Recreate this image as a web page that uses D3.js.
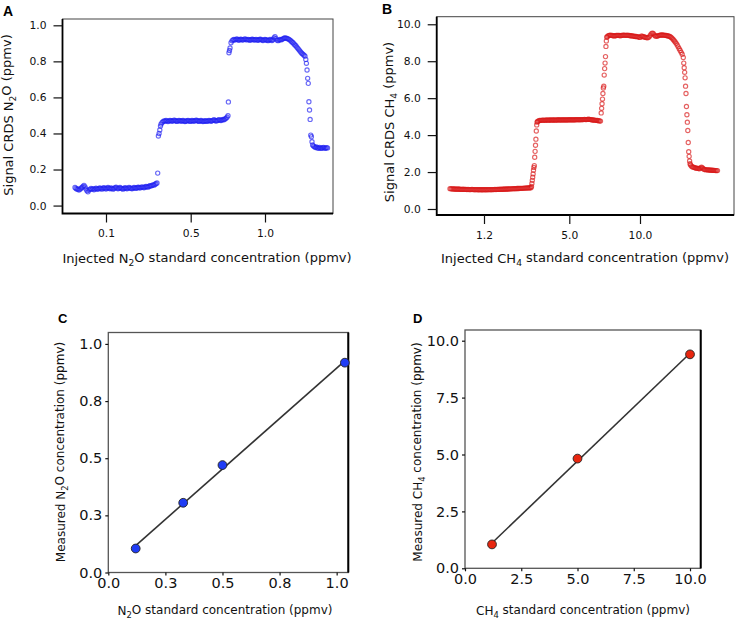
<!DOCTYPE html>
<html>
<head>
<meta charset="utf-8">
<script src="https://cdn.jsdelivr.net/npm/d3@7"></script>
<style>
  body { margin: 0; background: #fff; }
  svg { display: block; font-family: "DejaVu Sans", sans-serif; }
</style>
</head>
<body>
<div id="chart"></div>
<script>
// ---- panel A : N2O trace (sample time vs signal) ----
var n2oLow = [0.100,0.095,0.090,0.092,0.086,0.090,0.096,0.100,0.106,0.112,0.104,0.092,0.082,0.076,0.086,0.090,0.095,0.090,0.094,0.088,
  0.092,0.096,0.093,0.090,0.095,0.098,0.094,0.091,0.096,0.099,0.095,0.092,0.097,0.100,0.096,0.093,0.098,0.095,0.091,0.094,
  0.099,0.102,0.097,0.093,0.096,0.100,0.097,0.094,0.091,0.095,0.099,0.096,0.093,0.097,0.101,0.098,0.095,0.093,0.097,0.100,
  0.098,0.095,0.099,0.102,0.100,0.097,0.101,0.104,0.101,0.099,0.103,0.106,0.104,0.102,0.107,0.110,0.108,0.112,0.115,0.113,
  0.118,0.121,0.125];
var n2oRise1 = [0.180,0.386,0.400,0.419,0.441];
var n2oMid = [0.452,0.460,0.466,0.470,0.468,0.472,0.470,0.466,0.469,0.473,0.471,0.468,0.470,0.474,0.472,0.469,0.467,0.470,0.473,0.471,
  0.468,0.470,0.472,0.469,0.466,0.468,0.471,0.473,0.470,0.467,0.469,0.472,0.470,0.468,0.471,0.474,0.472,0.469,0.467,0.470,
  0.472,0.469,0.466,0.468,0.471,0.469,0.467,0.470,0.473,0.471,0.468,0.470,0.473,0.476,0.472,0.469,0.471,0.474,0.477,0.474,
  0.472,0.475,0.478,0.476,0.480,0.484,0.490,0.498];
var n2oRise2 = [0.575,0.848,0.860,0.874];
var n2oHigh = [0.903,0.914,0.919,0.921,0.918,0.922,0.924,0.920,0.917,0.921,0.923,0.920,0.918,0.922,0.925,0.921,0.919,0.922,0.920,0.917,
  0.920,0.923,0.921,0.918,0.920,0.922,0.919,0.917,0.920,0.923,0.921,0.918,0.916,0.919,0.922,0.920,0.917,0.915,0.918,0.921,
  0.919,0.916,0.920,0.930,0.937,0.926,0.918,0.915,0.918,0.921,0.919,0.922,0.925,0.928,0.930,0.929,
  0.927,0.925,0.922,0.918,0.913,0.908,0.903,0.897,0.891,0.885,0.878,0.871,0.864,0.857,0.850,0.844,0.839,0.834,0.829];
var n2oFall = [0.811,0.789,0.752,0.706,0.678,0.576,0.530,0.478,0.391,0.382,0.354,0.336];
var n2oTail = [0.330,0.326,0.322,0.325,0.320,0.318,0.322,0.319,0.317,0.321,0.323,0.319,0.318,0.321,0.320];
// [start time, sample step, values]
var n2oSegments = [[12.5,1,n2oLow],[95.2,0.7,n2oRise1],[98.5,1,n2oMid],[165.9,0.55,n2oRise2],
  [168.5,1,n2oHigh],[243.3,0.62,n2oFall],[251,1,n2oTail]];
var n2oTickTimes = [43.5, 128.2, 202.5];
var n2oTickLabels = ["0.1", "0.5", "1.0"];
var n2oSignalTicks = [0, 0.2, 0.4, 0.6, 0.8, 1.0];

// ---- panel B : CH4 trace ----
var ch4Low = [1.10,1.09,1.09,1.08,1.08,1.08,1.07,1.07,1.08,1.07,1.07,1.06,1.06,1.07,1.06,1.06,1.06,1.05,1.06,1.05,
  1.05,1.05,1.06,1.05,1.05,1.04,1.05,1.05,1.04,1.04,1.05,1.04,1.04,1.04,1.05,1.04,1.04,1.05,1.04,1.05,
  1.05,1.04,1.05,1.05,1.05,1.06,1.05,1.06,1.06,1.06,1.07,1.06,1.07,1.07,1.07,1.08,1.07,1.08,1.08,1.08,
  1.09,1.09,1.09,1.10,1.10,1.10,1.10,1.11,1.11,1.11,1.12,1.12,1.12,1.12,1.13,1.13,1.13,1.14,1.14,1.14,
  1.15,1.15];
var ch4Rise1 = [1.22,1.38,1.55,1.72,1.90,2.10,2.25,2.35,2.80,3.12,3.45,3.78,4.22,4.55,4.70];
var ch4Mid = [4.74,4.77,4.79,4.80,4.80,4.81,4.81,4.80,4.81,4.82,4.81,4.81,4.82,4.82,4.81,4.82,4.82,4.82,4.81,4.82,
  4.82,4.83,4.82,4.82,4.82,4.83,4.82,4.82,4.83,4.82,4.82,4.83,4.83,4.82,4.83,4.83,4.82,4.83,4.83,4.83,
  4.84,4.83,4.83,4.84,4.83,4.84,4.84,4.85,4.84,4.84,4.85,4.86,4.85,4.84,4.83,4.82,4.82,4.81,4.80,4.80,
  4.79,4.78,4.77,4.76];
var ch4Rise2 = [5.20,5.45,5.70,5.95,6.25,6.55,6.65,7.25,7.60,7.90,8.25,8.80,9.10,9.30];
var ch4High = [9.33,9.38,9.40,9.41,9.40,9.39,9.38,9.37,9.38,9.39,9.40,9.40,9.39,9.38,
  9.39,9.40,9.41,9.41,9.40,9.40,9.41,9.40,9.39,9.38,9.38,9.37,9.36,9.35,9.34,9.34,9.33,9.32,9.30,9.29,
  9.36,9.35,9.33,9.31,9.30,9.28,9.27,9.28,9.32,9.40,9.48,9.52,9.50,9.43,9.37,9.35,9.36,9.38,9.40,9.41,
  9.42,9.42,9.41,9.41,9.40,9.39,9.38,9.37,9.35,9.33,9.29,9.24,9.18,9.11,9.04,8.97,8.88,8.78,8.68,8.58,8.48,8.38];
var ch4Fall = [8.20,7.90,7.65,7.40,7.10,6.65,6.25,5.55,5.10,4.70,4.25,3.60,3.10,2.85,2.60,2.45];
var ch4Tail = [2.38,2.32,2.28,2.26,2.24,2.22,2.21,2.20,2.19,2.18,2.22,2.26,2.22,2.17,2.14,2.13,2.12,2.12,2.11,2.11,
  2.10,2.10,2.10,2.09,2.09,2.08,2.08,2.08];
var ch4Segments = [[13.3,1,ch4Low],[94.8,0.4,ch4Rise1],[100.8,1,ch4Mid],[164.5,0.43,ch4Rise2],
  [170.5,1,ch4High],[246.6,0.45,ch4Fall],[253.8,1,ch4Tail]];
var ch4TickTimes = [47.3, 132.6, 203.3];
var ch4TickLabels = ["1.2", "5.0", "10.0"];
var ch4SignalTicks = [0, 2, 4, 6, 8, 10];

// ---- panel C / D : calibration ----
var n2oStandard = [0.12, 0.328, 0.50, 1.036];
var n2oMeasured = [0.105, 0.305, 0.47, 0.918];
var n2oCalTicks = [0, 0.25, 0.5, 0.75, 1.0];
var n2oCalLabels = ["0.0", "0.3", "0.5", "0.8", "1.0"];
var ch4Standard = [1.2, 5.0, 10.0];
var ch4Measured = [1.05, 4.82, 9.40];
var ch4CalTicks = [0, 2.5, 5, 7.5, 10];

var svg = d3.select("#chart").append("svg")
  .attr("width", 737).attr("height", 624);
svg.append("rect").attr("width", 737).attr("height", 624).attr("fill", "#fff");

function toPoints(segs) {
  return segs.flatMap(function(s) {
    return s[2].map(function(v, i) { return {t: s[0] + i * s[1], v: v}; });
  });
}

// text with a subscript digit: parts = [before, sub, after]
function subText(sel, parts) {
  sel.append("tspan").text(parts[0]);
  sel.append("tspan").attr("font-size", "70%").attr("dy", "0.35em").text(parts[1]);
  sel.append("tspan").attr("dy", "-0.35em").text(parts[2]);
  return sel;
}

function styleAxis(g, size) {
  g.attr("font-family", "DejaVu Sans, sans-serif").attr("font-size", size);
  g.select(".domain").remove();
  g.selectAll(".tick line").attr("stroke", "#111").attr("stroke-width", 1.2);
  g.selectAll(".tick text").attr("fill", "#111");
}

function tracePanel(o) {
  var x = d3.scaleLinear().domain(o.xDomain).range(o.xRange);
  var y = d3.scaleLinear().domain(o.yDomain).range(o.yRange);
  var g = svg.append("g");

  g.selectAll("circle").data(toPoints(o.segments)).enter()
    .append("circle")
    .attr("cx", function(d) { return x(d.t); })
    .attr("cy", function(d) { return y(d.v); })
    .attr("r", 2.1)
    .attr("fill", "none")
    .attr("stroke", o.color)
    .attr("stroke-opacity", 0.68)
    .attr("stroke-width", 1.15);

  // frame
  g.append("rect")
    .attr("x", o.xRange[0]).attr("y", o.yRange[1])
    .attr("width", o.xRange[1] - o.xRange[0]).attr("height", o.yRange[0] - o.yRange[1])
    .attr("fill", "none").attr("stroke", "#444").attr("stroke-width", 1);
  g.append("path")
    .attr("d", "M" + o.xRange[0] + "," + o.yRange[1] + "V" + o.yRange[0] + "H" + o.xRange[1])
    .attr("fill", "none").attr("stroke", "#000").attr("stroke-width", 1.8);

  var ya = g.append("g").attr("transform", "translate(" + o.xRange[0] + ",0)")
    .call(d3.axisLeft(y).tickValues(o.yTicks).tickFormat(d3.format(".1f")).tickSize(9).tickPadding(7).tickSizeOuter(0));
  styleAxis(ya, 10.7);
  var xa = g.append("g").attr("transform", "translate(0," + o.yRange[0] + ")")
    .call(d3.axisBottom(x).tickValues(o.xTicks).tickFormat(function(d, i) { return o.xLabels[i]; }).tickSize(9).tickPadding(7).tickSizeOuter(0));
  styleAxis(xa, 10.7);

  subText(g.append("text").attr("x", o.xTitlePos[0]).attr("y", o.xTitlePos[1])
    .attr("text-anchor", "middle").attr("font-size", 13).attr("fill", "#111"), o.xTitle);
  subText(g.append("text")
    .attr("transform", "translate(" + o.yTitlePos[0] + "," + o.yTitlePos[1] + ") rotate(-90)")
    .attr("text-anchor", "middle").attr("font-size", 13).attr("fill", "#111"), o.yTitle);
  g.append("text").attr("x", o.letterPos[0]).attr("y", o.letterPos[1])
    .attr("font-family", "Liberation Sans, Arial, sans-serif")
    .attr("font-weight", "bold").attr("font-size", 14).text(o.letter);
}

function calPanel(o) {
  var x = d3.scaleLinear().domain(o.xDomain).range(o.xRange);
  var y = d3.scaleLinear().domain(o.yDomain).range(o.yRange);
  var g = svg.append("g");
  var pts = o.xs.map(function(v, i) { return {x: v, y: o.ys[i]}; });

  // least squares fit line
  var mx = d3.mean(o.xs), my = d3.mean(o.ys);
  var sxy = d3.sum(pts, function(p) { return (p.x - mx) * (p.y - my); });
  var sxx = d3.sum(pts, function(p) { return (p.x - mx) * (p.x - mx); });
  var b = sxy / sxx, a = my - b * mx;
  var ext = d3.extent(o.xs);

  g.append("rect")
    .attr("x", o.xRange[0]).attr("y", o.yRange[1])
    .attr("width", o.xRange[1] - o.xRange[0]).attr("height", o.yRange[0] - o.yRange[1])
    .attr("fill", "none").attr("stroke", "#555").attr("stroke-width", 1.3);
  g.append("line")
    .attr("x1", o.xRange[1]).attr("x2", o.xRange[1])
    .attr("y1", o.yRange[1]).attr("y2", o.yRange[0])
    .attr("stroke", "#000").attr("stroke-width", 2);

  g.append("line")
    .attr("x1", x(ext[0])).attr("y1", y(a + b * ext[0]))
    .attr("x2", x(ext[1])).attr("y2", y(a + b * ext[1]))
    .attr("stroke", "#333").attr("stroke-width", 1.6);

  g.selectAll("circle").data(pts).enter().append("circle")
    .attr("cx", function(d) { return x(d.x); })
    .attr("cy", function(d) { return y(d.y); })
    .attr("r", 4.4)
    .attr("fill", o.color)
    .attr("stroke", "#222").attr("stroke-width", 0.9);

  var ya = g.append("g").attr("transform", "translate(" + o.xRange[0] + ",0)")
    .call(d3.axisLeft(y).tickValues(o.ticks).tickFormat(function(d, i) { return o.labels[i]; }).tickSize(3).tickPadding(3).tickSizeOuter(0));
  styleAxis(ya, 14.5);
  var xa = g.append("g").attr("transform", "translate(0," + o.yRange[0] + ")")
    .call(d3.axisBottom(x).tickValues(o.ticks).tickFormat(function(d, i) { return o.labels[i]; }).tickSize(3).tickPadding(2).tickSizeOuter(0));
  styleAxis(xa, 14.5);

  subText(g.append("text").attr("x", o.xTitlePos[0]).attr("y", o.xTitlePos[1])
    .attr("text-anchor", "middle").attr("font-size", 12).attr("fill", "#111"), o.xTitle);
  subText(g.append("text")
    .attr("transform", "translate(" + o.yTitlePos[0] + "," + o.yTitlePos[1] + ") rotate(-90)")
    .attr("text-anchor", "middle").attr("font-size", 12).attr("fill", "#111"), o.yTitle);
  g.append("text").attr("x", o.letterPos[0]).attr("y", o.letterPos[1])
    .attr("font-family", "Liberation Sans, Arial, sans-serif")
    .attr("font-weight", "bold").attr("font-size", 13).text(o.letter);
}

tracePanel({
  segments: n2oSegments, color: "#2020f2",
  xDomain: [0, 270.5], xRange: [62.5, 333],
  yDomain: [-0.044, 1.035], yRange: [213.5, 19],
  yTicks: n2oSignalTicks, xTicks: n2oTickTimes, xLabels: n2oTickLabels,
  xTitle: ["Injected N", "2", "O standard concentration (ppmv)"], xTitlePos: [207, 263],
  yTitle: ["Signal CRDS N", "2", "O (ppmv)"], yTitlePos: [12.5, 115],
  letter: "A", letterPos: [3, 16]
});

tracePanel({
  segments: ch4Segments, color: "#d81818",
  xDomain: [0, 297.3], xRange: [436.7, 734],
  yDomain: [-0.325, 10.41], yRange: [215, 16.7],
  yTicks: ch4SignalTicks, xTicks: ch4TickTimes, xLabels: ch4TickLabels,
  xTitle: ["Injected CH", "4", " standard concentration (ppmv)"], xTitlePos: [585, 263],
  yTitle: ["Signal CRDS CH", "4", " (ppmv)"], yTitlePos: [394, 122],
  letter: "B", letterPos: [382, 14]
});

calPanel({
  xs: n2oStandard, ys: n2oMeasured, color: "#1f3cf5",
  xDomain: [0, 1.051], xRange: [108.3, 348.3],
  yDomain: [0, 1.05], yRange: [572.5, 332.5],
  ticks: n2oCalTicks, labels: n2oCalLabels,
  xTitle: ["N", "2", "O standard concentration (ppmv)"], xTitlePos: [225, 615],
  yTitle: ["Measured N", "2", "O concentration (ppmv)"], yTitlePos: [65, 452],
  letter: "C", letterPos: [58, 322.7]
});

calPanel({
  xs: ch4Standard, ys: ch4Measured, color: "#e8260f",
  xDomain: [0, 10.475], xRange: [465, 700.7],
  yDomain: [0, 10.47], yRange: [568.3, 330],
  ticks: ch4CalTicks, labels: ch4CalTicks.map(d3.format(".1f")),
  xTitle: ["CH", "4", " standard concentration (ppmv)"], xTitlePos: [583, 615],
  yTitle: ["Measured CH", "4", " concentration (ppmv)"], yTitlePos: [422, 452],
  letter: "D", letterPos: [413, 322.7]
});
</script>
</body>
</html>
